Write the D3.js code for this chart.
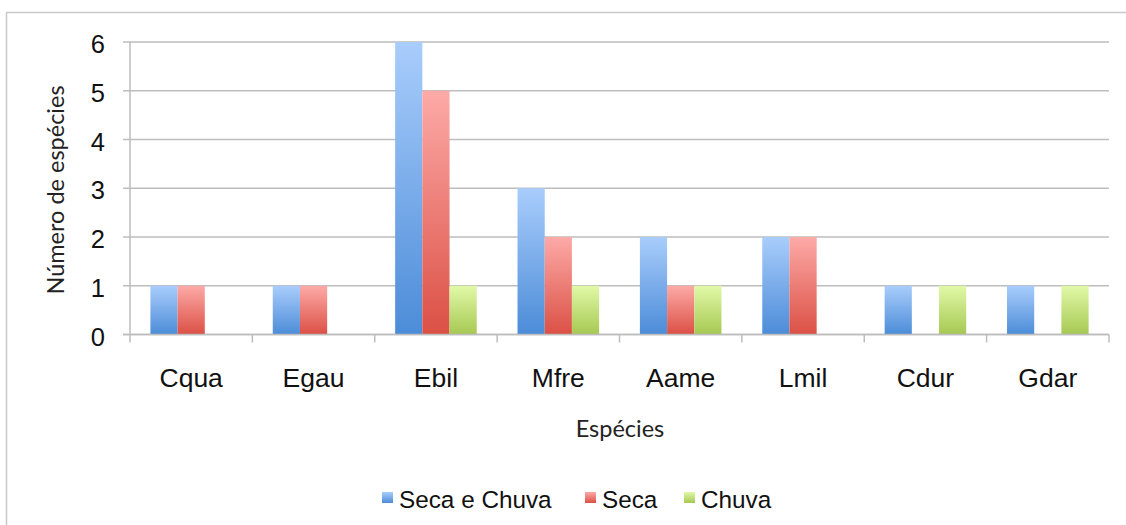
<!DOCTYPE html>
<html>
<head>
<meta charset="utf-8">
<script src="https://cdn.jsdelivr.net/npm/d3@7"></script>
<style>
  body { margin: 0; background: #fff; }
  svg { display: block; }
  .sans { font-family: Arial, "Liberation Sans", Helvetica, sans-serif; }
  .title { font-family: Lato, "Open Sans", sans-serif; }
</style>
</head>
<body>
<svg id="chart" width="1126" height="525"></svg>
<script>
// data
var species = ["Cqua", "Egau", "Ebil", "Mfre", "Aame", "Lmil", "Cdur", "Gdar"];
var seriesNames = ["Seca e Chuva", "Seca", "Chuva"];
var secaChuva = [1, 1, 6, 3, 2, 2, 1, 1];
var seca = [1, 1, 5, 2, 1, 2, 0, 0];
var chuva = [0, 0, 1, 1, 1, 0, 1, 1];
var yTicks = [0, 1, 2, 3, 4, 5, 6];

var seriesValues = [secaChuva, seca, chuva];
var colors = [
  {top: "#a9cdfc", bottom: "#4c8cd8"},
  {top: "#fdaaa7", bottom: "#db5045"},
  {top: "#e1f9a8", bottom: "#a6c852"}
];

var svg = d3.select("svg#chart");
var width = +svg.attr("width"),
    height = +svg.attr("height");

var plot = {left: 130, right: 1109, top: 42, bottom: 334.5};

// outer frame
svg.append("rect")
  .attr("x", 6.5).attr("y", 12.5)
  .attr("width", width + 10).attr("height", height + 10)
  .attr("fill", "none")
  .attr("stroke", "#c8c8c8")
  .attr("stroke-width", 1.5);

// gradients
var defs = svg.append("defs");
colors.forEach(function(c, i) {
  var g = defs.append("linearGradient")
    .attr("id", "grad" + i)
    .attr("x1", 0).attr("y1", 0).attr("x2", 0).attr("y2", 1);
  g.append("stop").attr("offset", "0%").attr("stop-color", c.top);
  g.append("stop").attr("offset", "100%").attr("stop-color", c.bottom);
});

// scales
var x0 = d3.scaleBand().domain(species).range([plot.left, plot.right]).padding(0);
var bw = x0.bandwidth();
var x1 = d3.scaleBand().domain(seriesNames).range([bw / 6, bw * 5 / 6]).padding(0);
var y = d3.scaleLinear().domain([0, 6]).range([plot.bottom, plot.top]);

// gridlines
svg.append("g").selectAll("line")
  .data(yTicks)
  .enter().append("line")
  .attr("x1", plot.left - 7)
  .attr("x2", plot.right)
  .attr("y1", function(d) { return y(d); })
  .attr("y2", function(d) { return y(d); })
  .attr("stroke", "#bdbdbd")
  .attr("stroke-width", 1.5);

// y tick labels
svg.append("g").selectAll("text")
  .data(yTicks)
  .enter().append("text")
  .attr("class", "sans")
  .attr("x", 105)
  .attr("y", function(d) { return y(d) + 11; })
  .attr("text-anchor", "end")
  .attr("font-size", 25.5)
  .attr("fill", "#111")
  .text(function(d) { return d; });

// bars
var rows = [];
species.forEach(function(s, i) {
  seriesNames.forEach(function(n, j) {
    rows.push({species: s, series: n, idx: j, value: seriesValues[j][i]});
  });
});

svg.append("g").selectAll("rect")
  .data(rows.filter(function(d) { return d.value > 0; }))
  .enter().append("rect")
  .attr("x", function(d) { return x0(d.species) + x1(d.series); })
  .attr("y", function(d) { return y(d.value); })
  .attr("width", x1.bandwidth())
  .attr("height", function(d) { return y(0) - y(d.value); })
  .attr("fill", function(d) { return "url(#grad" + d.idx + ")"; });

// y axis line
svg.append("line")
  .attr("x1", plot.left).attr("x2", plot.left)
  .attr("y1", plot.top).attr("y2", plot.bottom)
  .attr("stroke", "#bdbdbd").attr("stroke-width", 1.5);

// x axis line and ticks
svg.append("line")
  .attr("x1", plot.left - 7).attr("x2", plot.right)
  .attr("y1", plot.bottom).attr("y2", plot.bottom)
  .attr("stroke", "#bdbdbd").attr("stroke-width", 1.5);

svg.append("g").selectAll("line")
  .data(species.concat(["end"]))
  .enter().append("line")
  .attr("x1", function(d) { return d === "end" ? plot.right : x0(d); })
  .attr("x2", function(d) { return d === "end" ? plot.right : x0(d); })
  .attr("y1", plot.bottom)
  .attr("y2", plot.bottom + 8)
  .attr("stroke", "#bdbdbd").attr("stroke-width", 1.5);

// category labels
svg.append("g").selectAll("text")
  .data(species)
  .enter().append("text")
  .attr("class", "sans")
  .attr("x", function(d) { return x0(d) + bw / 2; })
  .attr("y", 387)
  .attr("text-anchor", "middle")
  .attr("font-size", 26.5)
  .attr("fill", "#111")
  .text(function(d) { return d; });

// axis titles
svg.append("text")
  .attr("class", "title")
  .attr("x", 620).attr("y", 437)
  .attr("text-anchor", "middle")
  .attr("font-size", 23.5)
  .attr("fill", "#222")
  .text("Espécies");

svg.append("text")
  .attr("class", "title")
  .attr("transform", "translate(64,190) rotate(-90)")
  .attr("text-anchor", "middle")
  .attr("font-size", 23.5)
  .attr("fill", "#222")
  .text("Número de espécies");

// legend
var legendX = [382, 585, 684];
var legend = svg.append("g").selectAll("g")
  .data(seriesNames)
  .enter().append("g")
  .attr("transform", function(d, i) { return "translate(" + legendX[i] + ",492)"; });

legend.append("rect")
  .attr("width", 11).attr("height", 11)
  .attr("fill", function(d, i) { return "url(#grad" + i + ")"; });

legend.append("text")
  .attr("class", "sans")
  .attr("x", 17).attr("y", 16)
  .attr("font-size", 24.3)
  .attr("fill", "#111")
  .text(function(d) { return d; });
</script>
</body>
</html>
